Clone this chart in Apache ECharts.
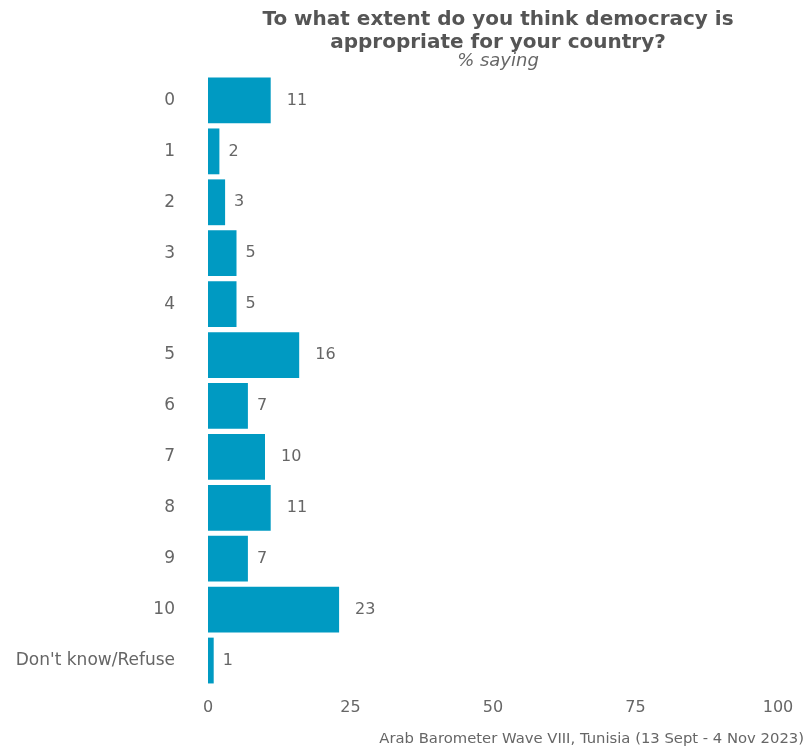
<!DOCTYPE html>
<html><head><meta charset="utf-8">
<script src="https://cdn.jsdelivr.net/npm/echarts@6/dist/echarts.min.js"></script>
<style>html,body{margin:0;padding:0;background:#fff}#c{width:809px;height:748px}</style>
</head><body><div id="c"></div>
<script>
const categories = ["0","1","2","3","4","5","6","7","8","9","10","Don't know/Refuse"];
const values = [11,2,3,5,5,16,7,10,11,7,23,1];
const xTicks = [0,25,50,75,100];
const titleText = "To what extent do you think democracy is\nappropriate for your country?";
const subtitleText = "% saying";
const captionText = "Arab Barometer Wave VIII, Tunisia (13 Sept - 4 Nov 2023)";

const FONT = "DejaVu Sans";
const chart = echarts.init(document.getElementById('c'), null, {renderer:'canvas'});
chart.setOption({
  animation:false,
  backgroundColor:'#fff',
  title:[{
    text:titleText, left:493, top:3, textAlign:'center',
    textStyle:{fontFamily:FONT, fontWeight:'bold', fontSize:20, color:'#555555', lineHeight:23}
  },{
    text:subtitleText, left:493, top:47, textAlign:'center',
    textStyle:{fontFamily:FONT, fontStyle:'italic', fontWeight:'normal', fontSize:18, color:'#666666'}
  },{
    text:captionText, right:0, top:727,
    textStyle:{fontFamily:FONT, fontWeight:'normal', fontSize:14.8, color:'#666666'}
  }],
  grid:{left:208, right:31, top:75, bottom:62, containLabel:false},
  xAxis:{
    type:'value', min:0, max:100, interval:25,
    axisLine:{show:false}, axisTick:{show:false}, splitLine:{show:false},
    axisLabel:{fontFamily:FONT, fontSize:16, color:'#666666', margin:14,
      formatter:v=>xTicks.includes(v)?String(v):''}
  },
  yAxis:{
    type:'category', data:categories, inverse:true,
    axisLine:{show:false}, axisTick:{show:false}, splitLine:{show:false},
    axisLabel:{fontFamily:FONT, fontSize:17, color:'#666666', margin:33}
  },
  series:[{
    type:'bar',
    data:values.map(v=>({value:v, label:{distance:String(v).length>1?16:9}})),
    barCategoryGap:'10%',
    itemStyle:{color:'#009ac2'},
    label:{show:true, position:'right', fontFamily:FONT, fontSize:16, color:'#666666'}
  }]
});
</script></body></html>
